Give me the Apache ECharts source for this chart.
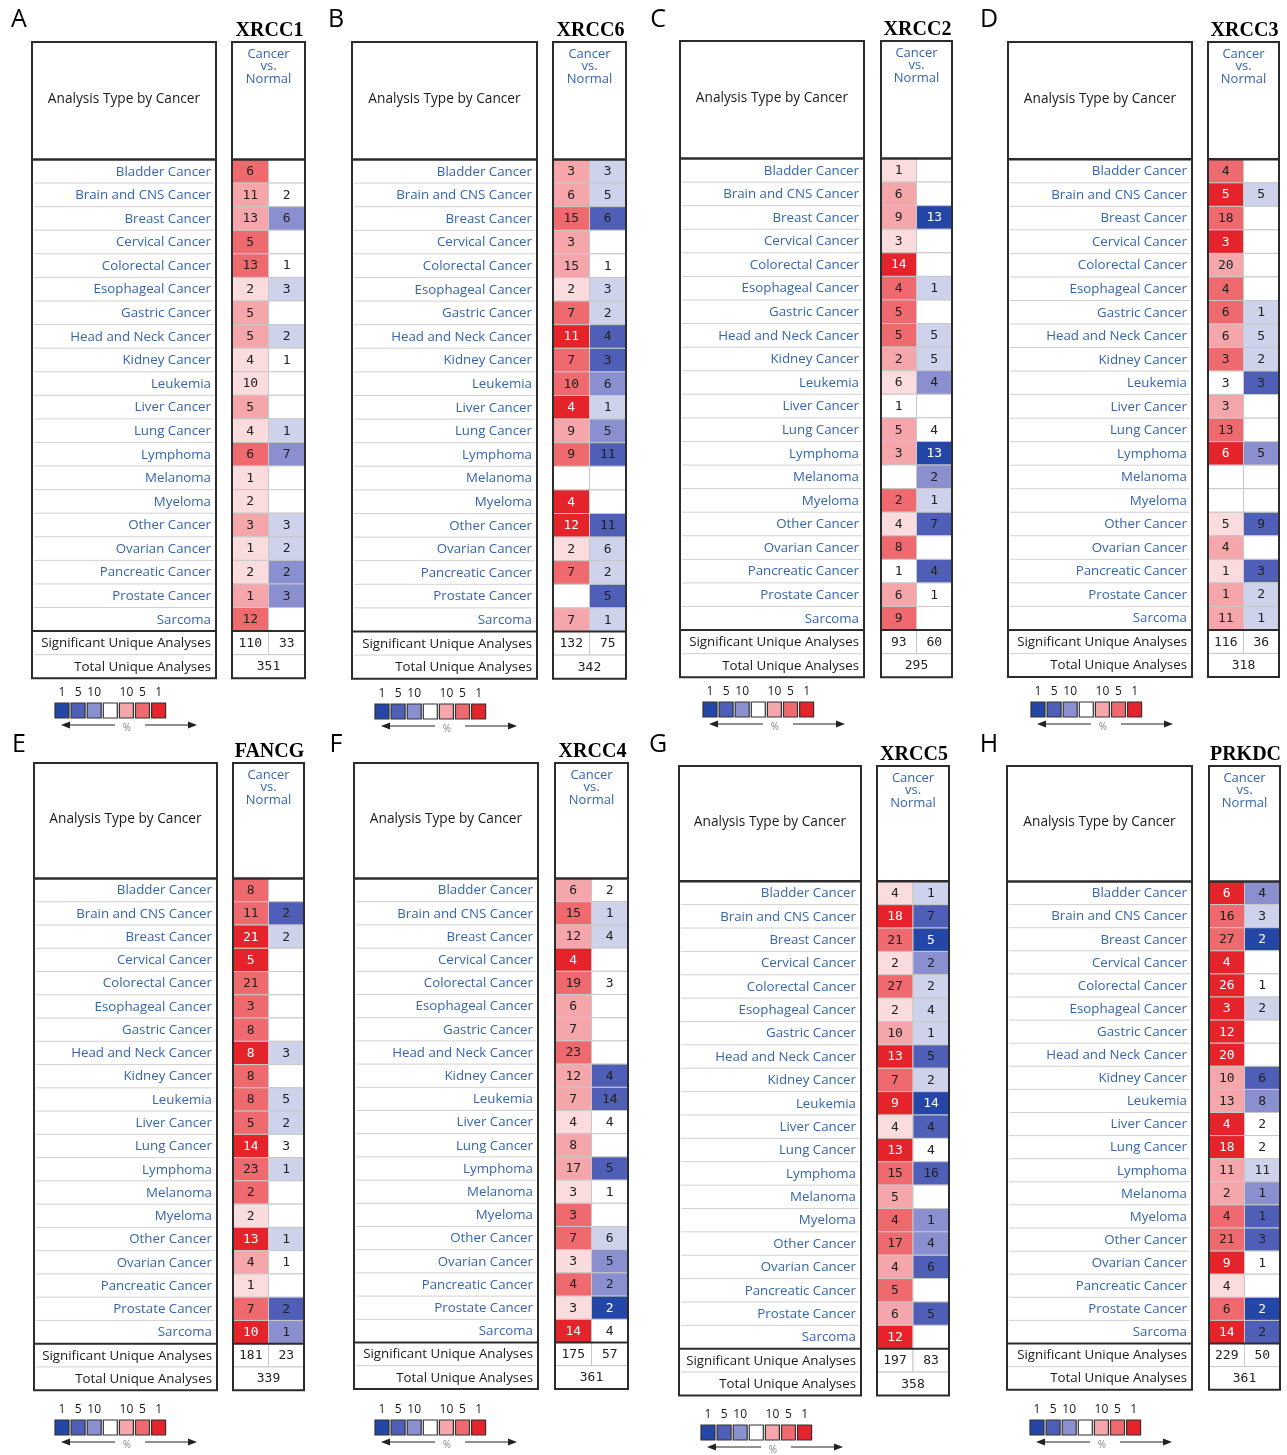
<!DOCTYPE html>
<html>
<head>
<meta charset="utf-8">
<script src="https://cdn.jsdelivr.net/npm/echarts@6/dist/echarts.min.js"></script>
<style>
  html, body { margin: 0; padding: 0; background: #ffffff; }
  #chart { width: 1287px; height: 1455px; }
</style>
</head>
<body>
<div id="chart"></div>
<script>
// Row categories shared by every gene panel
const cancerTypes = ['Bladder Cancer', 'Brain and CNS Cancer', 'Breast Cancer', 'Cervical Cancer',
  'Colorectal Cancer', 'Esophageal Cancer', 'Gastric Cancer', 'Head and Neck Cancer', 'Kidney Cancer',
  'Leukemia', 'Liver Cancer', 'Lung Cancer', 'Lymphoma', 'Melanoma', 'Myeloma', 'Other Cancer',
  'Ovarian Cancer', 'Pancreatic Cancer', 'Prostate Cancer', 'Sarcoma'];
const summaryRows = ['Significant Unique Analyses', 'Total Unique Analyses'];
const panelLetters = ['A', 'B', 'C', 'D', 'E', 'F', 'G', 'H'];
const geneNames = ['XRCC1', 'XRCC6', 'XRCC2', 'XRCC3', 'FANCG', 'XRCC4', 'XRCC5', 'PRKDC'];
const legendTicks = ['1', '5', '10', '', '10', '5', '1'];

// Counts of analyses with over-expression (up) and under-expression (down); null = none.
// Rank = gene rank percentile band: 0 none/outside, 1 faint, 2 top 10%, 3 top 5%, 4 top 1%.
const xrcc1Up       = [6, 11, 13, 5, 13, 2, 5, 5, 4, 10, 5, 4, 6, 1, 2, 3, 1, 2, 1, 12];
const xrcc1UpRank   = [3, 2, 2, 3, 3, 1, 2, 2, 1, 1, 2, 1, 3, 1, 1, 2, 1, 1, 2, 3];
const xrcc1Down     = [null, 2, 6, null, 1, 3, null, 2, 1, null, null, 1, 7, null, null, 3, 2, 2, 3, null];
const xrcc1DownRank = [0, 0, 2, 0, 0, 1, 0, 1, 0, 0, 0, 1, 2, 0, 0, 1, 1, 2, 2, 0];
const xrcc1Totals   = [110, 33, 351];

const xrcc6Up       = [3, 6, 15, 3, 15, 2, 7, 11, 7, 10, 4, 9, 9, null, 4, 12, 2, 7, null, 7];
const xrcc6UpRank   = [2, 2, 3, 2, 2, 1, 3, 4, 3, 3, 4, 2, 3, 0, 4, 4, 1, 3, 0, 2];
const xrcc6Down     = [3, 5, 6, null, 1, 3, 2, 4, 3, 6, 1, 5, 11, null, null, 11, 6, 2, 5, 1];
const xrcc6DownRank = [1, 1, 3, 0, 0, 1, 1, 3, 3, 2, 1, 2, 3, 0, 0, 3, 1, 1, 3, 1];
const xrcc6Totals   = [132, 75, 342];

const xrcc2Up       = [1, 6, 9, 3, 14, 4, 5, 5, 2, 6, 1, 5, 3, null, 2, 4, 8, 1, 6, 9];
const xrcc2UpRank   = [1, 2, 2, 1, 4, 3, 3, 3, 2, 1, 0, 2, 2, 0, 3, 1, 3, 0, 2, 3];
const xrcc2Down     = [null, null, 13, null, null, 1, null, 5, 5, 4, null, 4, 13, 2, 1, 7, null, 4, 1, null];
const xrcc2DownRank = [0, 0, 4, 0, 0, 1, 0, 1, 1, 2, 0, 0, 4, 2, 1, 3, 0, 3, 0, 0];
const xrcc2Totals   = [93, 60, 295];

const xrcc3Up       = [4, 5, 18, 3, 20, 4, 6, 6, 3, 3, 3, 13, 6, null, null, 5, 4, 1, 1, 11];
const xrcc3UpRank   = [3, 4, 3, 4, 2, 3, 3, 2, 3, 0, 2, 3, 4, 0, 0, 1, 2, 1, 2, 2];
const xrcc3Down     = [null, 5, null, null, null, null, 1, 5, 2, 3, null, null, 5, null, null, 9, null, 3, 2, 1];
const xrcc3DownRank = [0, 1, 0, 0, 0, 0, 1, 1, 1, 3, 0, 0, 2, 0, 0, 3, 0, 3, 1, 1];
const xrcc3Totals   = [116, 36, 318];

const fancgUp       = [8, 11, 21, 5, 21, 3, 8, 8, 8, 8, 5, 14, 23, 2, 2, 13, 4, 1, 7, 10];
const fancgUpRank   = [3, 3, 4, 4, 3, 3, 3, 4, 3, 3, 3, 4, 3, 3, 1, 4, 2, 1, 3, 4];
const fancgDown     = [null, 2, 2, null, null, null, null, 3, null, 5, 2, 3, 1, null, null, 1, 1, null, 2, 1];
const fancgDownRank = [0, 3, 1, 0, 0, 0, 0, 1, 0, 1, 1, 0, 1, 0, 0, 1, 0, 0, 3, 2];
const fancgTotals   = [181, 23, 339];

const xrcc4Up       = [6, 15, 12, 4, 19, 6, 7, 23, 12, 7, 4, 8, 17, 3, 3, 7, 3, 4, 3, 14];
const xrcc4UpRank   = [2, 3, 2, 4, 3, 2, 2, 3, 2, 2, 1, 2, 2, 1, 3, 3, 1, 3, 1, 4];
const xrcc4Down     = [2, 1, 4, null, 3, null, null, null, 4, 14, 4, null, 5, 1, null, 6, 5, 2, 2, 4];
const xrcc4DownRank = [0, 1, 1, 0, 0, 0, 0, 0, 3, 3, 0, 0, 3, 0, 0, 1, 2, 2, 4, 0];
const xrcc4Totals   = [175, 57, 361];

const xrcc5Up       = [4, 18, 21, 2, 27, 2, 10, 13, 7, 9, 4, 13, 15, 5, 4, 17, 4, 5, 6, 12];
const xrcc5UpRank   = [1, 4, 3, 1, 3, 1, 2, 4, 3, 4, 1, 4, 3, 2, 3, 3, 2, 3, 2, 4];
const xrcc5Down     = [1, 7, 5, 2, 2, 4, 1, 5, 2, 14, 4, 4, 16, null, 1, 4, 6, null, 5, null];
const xrcc5DownRank = [1, 3, 4, 2, 1, 1, 1, 3, 1, 4, 3, 0, 3, 0, 2, 2, 3, 0, 3, 0];
const xrcc5Totals   = [197, 83, 358];

const prkdcUp       = [6, 16, 27, 4, 26, 3, 12, 20, 10, 13, 4, 18, 11, 2, 4, 21, 9, 4, 6, 14];
const prkdcUpRank   = [4, 3, 3, 4, 4, 4, 4, 4, 2, 2, 4, 4, 2, 2, 3, 3, 4, 1, 3, 4];
const prkdcDown     = [4, 3, 2, null, 1, 2, null, null, 6, 8, 2, 2, 11, 1, 1, 3, 1, null, 2, 2];
const prkdcDownRank = [2, 1, 4, 0, 0, 1, 0, 0, 3, 2, 0, 0, 1, 2, 3, 3, 0, 0, 4, 3];
const prkdcTotals   = [229, 50, 361];

const panelData = [
  [xrcc1Up, xrcc1UpRank, xrcc1Down, xrcc1DownRank, xrcc1Totals],
  [xrcc6Up, xrcc6UpRank, xrcc6Down, xrcc6DownRank, xrcc6Totals],
  [xrcc2Up, xrcc2UpRank, xrcc2Down, xrcc2DownRank, xrcc2Totals],
  [xrcc3Up, xrcc3UpRank, xrcc3Down, xrcc3DownRank, xrcc3Totals],
  [fancgUp, fancgUpRank, fancgDown, fancgDownRank, fancgTotals],
  [xrcc4Up, xrcc4UpRank, xrcc4Down, xrcc4DownRank, xrcc4Totals],
  [xrcc5Up, xrcc5UpRank, xrcc5Down, xrcc5DownRank, xrcc5Totals],
  [prkdcUp, prkdcUpRank, prkdcDown, prkdcDownRank, prkdcTotals]
];

// Panel geometry (pixels)
const layout = [
  { lx: 32,   lw: 184, rx: 232,  rw: 73, boxTop: 42,  rowTop: 159.5, rowH: 23.58, letterX: 19,  letterY: 20,  legX: 55,   legY: 703 },
  { lx: 352,  lw: 185, rx: 553,  rw: 73, boxTop: 42,  rowTop: 159.5, rowH: 23.6,  letterX: 336, letterY: 20,  legX: 375,  legY: 704 },
  { lx: 680,  lw: 184, rx: 881,  rw: 71, boxTop: 41,  rowTop: 158.5, rowH: 23.58, letterX: 658, letterY: 20,  legX: 703,  legY: 702 },
  { lx: 1008, lw: 184, rx: 1208, rw: 71, boxTop: 42,  rowTop: 159.3, rowH: 23.53, letterX: 989, letterY: 20,  legX: 1031, legY: 702 },
  { lx: 34,   lw: 183, rx: 233,  rw: 71, boxTop: 763, rowTop: 878.5, rowH: 23.26, letterX: 19,  letterY: 745, legX: 55,   legY: 1420 },
  { lx: 354,  lw: 184, rx: 555,  rw: 73, boxTop: 763, rowTop: 878.5, rowH: 23.2,  letterX: 336, letterY: 745, legX: 375,  legY: 1420 },
  { lx: 679,  lw: 182, rx: 877,  rw: 72, boxTop: 766, rowTop: 881.3, rowH: 23.37, letterX: 658, letterY: 745, legX: 701,  legY: 1425 },
  { lx: 1007, lw: 185, rx: 1209, rw: 71, boxTop: 766, rowTop: 881.5, rowH: 23.1,  letterX: 989, letterY: 745, legX: 1030, legY: 1420 }
];

const redShades  = ['#ffffff', '#fbdcde', '#f5a6aa', '#ee6a6f', '#e5232a'];
const blueShades = ['#ffffff', '#cfd2eb', '#8a90cf', '#4f5fb7', '#2447a7'];
const legendColors = [blueShades[4], blueShades[3], blueShades[2], '#ffffff', redShades[2], redShades[3], redShades[4]];
const rowCategories = cancerTypes.concat(summaryRows);
const frameColor = '#2c2c2c';
const labelBlue = '#3565ad';
const cellFont = '"DejaVu Sans Mono", monospace';
const textFont = '"Open Sans", "DejaVu Sans", sans-serif';

function buildCells(d) {
  const [up, upRank, down, downRank, totals] = d;
  const cells = [];
  for (let i = 0; i < cancerTypes.length; i++) {
    cells.push({ col: 0, row: i, count: up[i], color: redShades[upRank[i]], strong: upRank[i] === 4 });
    cells.push({ col: 1, row: i, count: down[i], color: blueShades[downRank[i]], strong: downRank[i] === 4 });
  }
  cells.push({ col: 0, row: 20, count: totals[0], color: '#ffffff' });
  cells.push({ col: 1, row: 20, count: totals[1], color: '#ffffff' });
  cells.push({ col: 0, row: 21, count: totals[2], color: '#ffffff', span: 2 });
  return cells;
}

function cellRenderer(cells) {
  return function (params, api) {
    const c = cells[params.dataIndex];
    const center = api.coord([c.col, c.row]);
    const size = api.size([1, 1]);
    const w = size[0] * (c.span || 1);
    const h = size[1];
    const x = center[0] - size[0] / 2;
    const y = center[1] - h / 2;
    const children = [{
      type: 'rect',
      shape: { x: x, y: y, width: w, height: h },
      style: { fill: c.color, stroke: '#c8c8c8', lineWidth: 1 }
    }];
    if (c.count != null) {
      children.push({
        type: 'text',
        x: x + w / 2, y: y + h / 2 + 0.5,
        style: {
          text: String(c.count), fill: c.strong ? '#ffffff' : '#222222',
          fontFamily: cellFont, fontSize: 13, align: 'center', verticalAlign: 'middle'
        }
      });
    }
    return { type: 'group', children: children };
  };
}

function labelRenderer(params, api) {
  const row = params.dataIndex;
  const center = api.coord([0, row]);
  const size = api.size([1, 1]);
  const x = center[0] - size[0] / 2, y = center[1] - size[1] / 2;
  return {
    type: 'group',
    children: [
      { type: 'line', shape: { x1: x + 2, y1: y + size[1], x2: x + size[0] - 2, y2: y + size[1] },
        style: { stroke: '#d2d2d2', lineWidth: 1 } },
      { type: 'text', x: x + size[0] - 5, y: center[1] + 0.5,
        style: { text: rowCategories[row], fill: row < 20 ? labelBlue : '#1a1a1a',
          fontFamily: textFont, fontSize: 13.3, align: 'right', verticalAlign: 'middle' } }
    ]
  };
}

const grids = [], xAxes = [], yAxes = [], series = [], graphics = [];

layout.forEach(function (g, p) {
  const bodyH = rowCategories.length * g.rowH;
  const bottom = g.rowTop + bodyH;
  const sepY = g.rowTop + cancerTypes.length * g.rowH;

  // label column
  grids.push({ left: g.lx, top: g.rowTop, width: g.lw, height: bodyH });
  xAxes.push({ type: 'category', gridIndex: 2 * p, data: ['label'], show: false });
  yAxes.push({ type: 'category', gridIndex: 2 * p, data: rowCategories, inverse: true, show: false });
  series.push({
    type: 'custom', xAxisIndex: 2 * p, yAxisIndex: 2 * p, silent: true,
    data: rowCategories.map(function (_, i) { return [0, i]; }),
    renderItem: labelRenderer
  });

  // up/down count columns
  const cells = buildCells(panelData[p]);
  grids.push({ left: g.rx, top: g.rowTop, width: g.rw, height: bodyH });
  xAxes.push({ type: 'category', gridIndex: 2 * p + 1, data: ['up', 'down'], show: false });
  yAxes.push({ type: 'category', gridIndex: 2 * p + 1, data: rowCategories, inverse: true, show: false });
  series.push({
    type: 'custom', xAxisIndex: 2 * p + 1, yAxisIndex: 2 * p + 1, silent: true,
    data: cells.map(function (c) { return [c.col, c.row]; }),
    renderItem: cellRenderer(cells)
  });

  // frames
  [[g.lx, g.lw], [g.rx, g.rw]].forEach(function (b) {
    graphics.push({ type: 'rect', z: 100, silent: true,
      shape: { x: b[0], y: g.boxTop, width: b[1], height: bottom - g.boxTop },
      style: { fill: 'none', stroke: frameColor, lineWidth: 2 } });
    graphics.push({ type: 'line', z: 100, silent: true,
      shape: { x1: b[0], y1: g.rowTop, x2: b[0] + b[1], y2: g.rowTop },
      style: { stroke: frameColor, lineWidth: 2.5 } });
    graphics.push({ type: 'line', z: 100, silent: true,
      shape: { x1: b[0], y1: sepY, x2: b[0] + b[1], y2: sepY },
      style: { stroke: frameColor, lineWidth: 2 } });
  });

  // headers
  graphics.push({ type: 'text', z: 101, silent: true, x: g.lx + g.lw / 2, y: (g.boxTop + g.rowTop) / 2 - 2,
    style: { text: 'Analysis Type by Cancer', fill: '#1a1a1a', fontFamily: textFont, fontSize: 13.7,
      align: 'center', verticalAlign: 'middle' } });
  graphics.push({ type: 'text', z: 101, silent: true, x: g.rx + g.rw / 2, y: g.boxTop + 6,
    style: { text: 'Cancer\nvs.\nNormal', fill: labelBlue, fontFamily: textFont, fontSize: 13,
      lineHeight: 12.5, align: 'center', verticalAlign: 'top' } });
  graphics.push({ type: 'text', z: 101, silent: true, x: g.rx + g.rw / 2 + 1, y: g.boxTop - 11,
    style: { text: geneNames[p], fill: '#000000', fontFamily: '"Liberation Serif", "Times New Roman", serif',
      fontWeight: 'bold', fontSize: 20, align: 'center', verticalAlign: 'middle' } });
  graphics.push({ type: 'text', z: 101, silent: true, x: g.letterX, y: g.letterY,
    style: { text: panelLetters[p], fill: '#000000', fontFamily: textFont, fontSize: 25,
      align: 'center', verticalAlign: 'middle' } });

  // rank legend
  legendColors.forEach(function (col, i) {
    const sx = g.legX + i * 16.1;
    graphics.push({ type: 'rect', z: 101, silent: true,
      shape: { x: sx, y: g.legY, width: 14, height: 15 },
      style: { fill: col, stroke: '#333333', lineWidth: 1.2 } });
    if (legendTicks[i]) {
      graphics.push({ type: 'text', z: 101, silent: true, x: sx + 7, y: g.legY - 10,
        style: { text: legendTicks[i], fill: '#1a1a1a', fontFamily: textFont, fontSize: 12,
          align: 'center', verticalAlign: 'middle' } });
    }
  });
  const ay = g.legY + 22;
  graphics.push({ type: 'line', z: 101, silent: true,
    shape: { x1: g.legX + 12, y1: ay, x2: g.legX + 60, y2: ay }, style: { stroke: '#222', lineWidth: 1.2 } });
  graphics.push({ type: 'polygon', z: 101, silent: true,
    shape: { points: [[g.legX + 6, ay], [g.legX + 15, ay - 3.5], [g.legX + 15, ay + 3.5]] }, style: { fill: '#222' } });
  graphics.push({ type: 'line', z: 101, silent: true,
    shape: { x1: g.legX + 90, y1: ay, x2: g.legX + 136, y2: ay }, style: { stroke: '#222', lineWidth: 1.2 } });
  graphics.push({ type: 'polygon', z: 101, silent: true,
    shape: { points: [[g.legX + 142, ay], [g.legX + 133, ay - 3.5], [g.legX + 133, ay + 3.5]] }, style: { fill: '#222' } });
  graphics.push({ type: 'text', z: 101, silent: true, x: g.legX + 72, y: ay + 3,
    style: { text: '%', fill: '#888888', fontFamily: textFont, fontSize: 10, align: 'center', verticalAlign: 'middle' } });
});

const chart = echarts.init(document.getElementById('chart'), null, { renderer: 'canvas' });
chart.setOption({
  backgroundColor: '#ffffff',
  animation: false,
  grid: grids,
  xAxis: xAxes,
  yAxis: yAxes,
  series: series,
  graphic: graphics
});
</script>
</body>
</html>
